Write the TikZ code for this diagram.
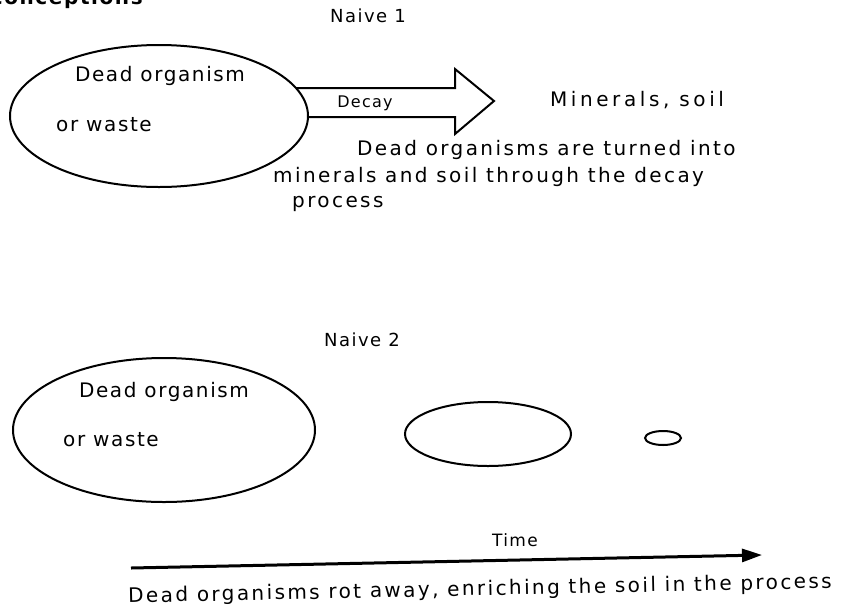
\documentclass[tikz,border=0pt]{standalone}
\usepackage{fontspec}
\setmainfont{DejaVu Sans}[LetterSpace=8]
\usetikzlibrary{arrows.meta,shapes.geometric}
\begin{document}
\begin{tikzpicture}[x=1pt,y=-1pt,
  lbl/.style={inner sep=0pt, font=\fontsize{20}{24}\selectfont\addfontfeature{LetterSpace=12}},
  big/.style={inner sep=0pt, font=\fontsize{20}{24}\selectfont},
  small/.style={inner sep=0pt, font=\fontsize{16}{19}\selectfont},
  oval/.style={draw, ellipse, line width=2pt, fill=white, inner sep=0pt},
  blockarrow/.style={draw, line width=2pt, line join=miter},
  timearrow/.style={line width=3pt, -{Triangle[length=20pt,width=13pt]}}]
\useasboundingbox[fill=white] (0,0) rectangle (851,611);
% cut-off heading
\node[anchor=base west, inner sep=0pt, font=\bfseries\fontsize{20}{24}\selectfont] (hdr) at (-88,4) {Naive conceptions};
% ---- Naive 1 ----
\node[big, font=\fontsize{18}{22}\selectfont] (n1) at (368,16) {Naive 1};
\coordinate (a0) at (290,88);
\coordinate (a1) at (455,88);
\coordinate (a2) at (455,69);
\coordinate (a3) at (494,101);
\coordinate (a4) at (455,134);
\coordinate (a5) at (455,117);
\coordinate (a6) at (290,117);
\draw[blockarrow] (a0) -- (a1) -- (a2) -- (a3) -- (a4) -- (a5) -- (a6);
\node[oval, minimum width=298pt, minimum height=142pt] (e1) at (159,116) {};
\node[big] (d1) at (160,76) {Dead organism};
\node[big] (w1) at (104,125) {or waste};
\node[small] (dec) at (365,103) {Decay};
\node[lbl, font=\fontsize{20}{24}\selectfont\addfontfeature{LetterSpace=18}] (min) at (637,100) {Minerals, soil};
\node[lbl, anchor=west] (c1) at (357,150) {Dead organisms are turned into};
\node[lbl, anchor=west] (c2) at (273,177) {minerals and soil through the decay};
\node[lbl, anchor=west] (c3) at (292,204) {process};
% ---- Naive 2 ----
\node[big, font=\fontsize{18}{22}\selectfont] (n2) at (362,340) {Naive 2};
\node[oval, minimum width=302pt, minimum height=144pt] (e2) at (164,430) {};
\node[big] (d2) at (164,392) {Dead organism};
\node[big] (w2) at (111,440) {or waste};
\node[oval, minimum width=166pt, minimum height=64pt] (e3) at (488,434) {};
\node[oval, minimum width=36pt, minimum height=14pt] (e4) at (663,438) {};
\coordinate (t0) at (131,568);
\coordinate (t1) at (762,555);
\draw[timearrow] (t0) -- (t1);
\node[small, font=\fontsize{17}{20}\selectfont] (tm) at (515,540) {Time};
\node[lbl, rotate=1.2] (cap2) at (480,590) {Dead organisms rot away, enriching the soil in the process};
\end{tikzpicture}
\end{document}
